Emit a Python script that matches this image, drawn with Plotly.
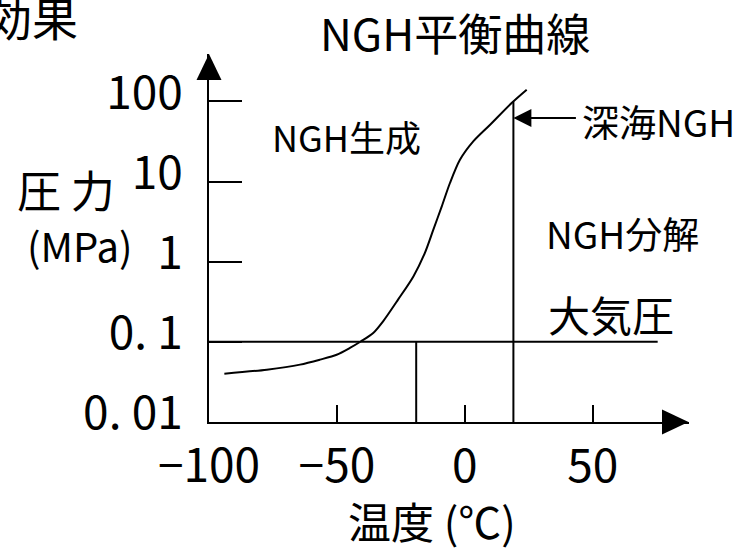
import math
import plotly.graph_objects as go

# ---- data ----
curve_temp = [-94, -77.4, -64.4, -56.6, -50.1, -44.9, -40.7, -35.8, -31.8, -26.1,
              -20.1, -15.6, -12.3, -9.0, -5.8, -1.9, 3.3, 9.9, 18.3, 24.2]
curve_pres = [0.040, 0.045, 0.052, 0.060, 0.069, 0.084, 0.101, 0.129, 0.183, 0.336,
              0.656, 1.29, 2.51, 4.90, 9.59, 18.7, 31.7, 51.2, 95.5, 140]
atm_temp = [-100, 75.4]
atm_pres = [0.1, 0.1]
land_temp = [-19, -19]
land_pres = [0.01, 0.1]
sea_temp = [19, 19]
sea_pres = [0.01, 100]
x_tickvals = [-100, -50, 0, 50]
x_ticktext = ["−100", "−50", "0", "50"]
y_tickvals = [0.01, 0.1, 1, 10, 100]
y_ticktext = ["0. 01", "0. 1", "1", "10", "100"]

# ---- layout geometry ----
W, H = 746, 550
L, R, T, B = 209, 57, 54, 128
PW, PH = W - L - R, H - T - B
PX_PER_DEG = 2.558
PX_PER_DEC = 80.15
x_range = [-100, -100 + PW / PX_PER_DEG]
y_range = [-2, -2 + PH / PX_PER_DEC]

def px(x):
    return (x - L) / PW

def py(y):
    return (H - B - y) / PH

FONT = "Noto Sans CJK JP, sans-serif"
LW = 2

fig = go.Figure()
fig.add_trace(go.Scatter(x=curve_temp, y=curve_pres, mode="lines",
                         line=dict(color="black", width=LW, shape="spline", smoothing=0.8),
                         showlegend=False, hoverinfo="skip"))
for xs, ys in [(atm_temp, atm_pres), (land_temp, land_pres), (sea_temp, sea_pres)]:
    fig.add_trace(go.Scatter(x=xs, y=ys, mode="lines",
                             line=dict(color="black", width=LW),
                             showlegend=False, hoverinfo="skip"))

ax_x0, ax_y0 = L, H - B
shapes = [
    dict(type="path", xref="paper", yref="paper",
         path=f"M {px(662)} {py(ax_y0-12.5)} L {px(662)} {py(ax_y0+12.5)} L {px(688.5)} {py(ax_y0)} Z",
         fillcolor="black", line=dict(color="black", width=0)),
    dict(type="path", xref="paper", yref="paper",
         path=f"M {px(ax_x0-12.5)} {py(80)} L {px(ax_x0+12.5)} {py(80)} L {px(ax_x0)} {py(54)} Z",
         fillcolor="black", line=dict(color="black", width=0)),
]

def ann(text, x, y, size, **kw):
    d = dict(text=text, x=px(x), y=py(y), xref="paper", yref="paper",
             showarrow=False, font=dict(family=FONT, size=size, color="black"),
             xanchor="center", yanchor="middle")
    d.update(kw)
    return d

annotations = [
    ann("効果", 80, 16, 46, xanchor="right"),
    ann("NGH平衡曲線", 455, 32, 44),
    ann("NGH生成", 346, 136, 36),
    ann("深海NGH", 580, 121, 37, xanchor="left"),
    ann("NGH分解", 622, 233, 37),
    ann("大気圧", 611, 313, 42),
    ann("圧 力", 66, 189, 44),
    ann("(MPa)", 79, 245, 40),
    ann("温度 (℃)", 432, 520, 43),
    dict(text="", x=19, y=math.log10(62), xref="x", yref="y",
         showarrow=True, axref="pixel", ayref="pixel", ax=64, ay=0,
         arrowhead=2, arrowsize=1.8, arrowwidth=2, arrowcolor="black", standoff=0),
]

fig.update_layout(
    width=W, height=H, autosize=False,
    margin=dict(l=L, r=R, t=T, b=B, pad=0),
    paper_bgcolor="white", plot_bgcolor="white",
    shapes=shapes, annotations=annotations,
    font=dict(family=FONT, color="black"),
    xaxis=dict(range=x_range, showgrid=False, zeroline=False,
               showline=True, linecolor="black", linewidth=LW,
               ticks="inside", ticklen=17, tickwidth=LW, tickcolor="black",
               tickvals=x_tickvals, ticktext=x_ticktext,
               tickfont=dict(family=FONT, size=46, color="black"),
               ticklabelstandoff=3, automargin=False),
    yaxis=dict(type="log", range=y_range, showgrid=False, zeroline=False,
               showline=True, linecolor="black", linewidth=LW,
               ticks="inside", ticklen=33, tickwidth=LW, tickcolor="black",
               tickvals=y_tickvals, ticktext=y_ticktext,
               tickfont=dict(family=FONT, size=46, color="black"),
               ticklabelstandoff=15, ticklabelshift=-9, automargin=False),
)

fig.write_html("out.html", config={"displayModeBar": False},
               post_script="document.body.style.margin='0';")
